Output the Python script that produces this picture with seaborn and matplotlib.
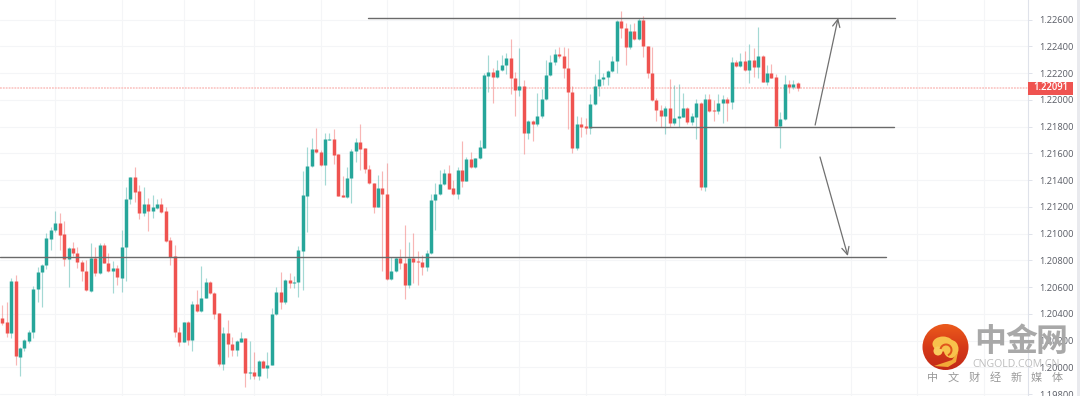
import numpy as np
import pandas as pd
import matplotlib
matplotlib.use("Agg")
import matplotlib.pyplot as plt
from matplotlib.colors import LinearSegmentedColormap
from matplotlib.patches import Circle, Ellipse, Polygon, Rectangle, Wedge
import seaborn as sns

# EURUSD candles
opens = [
    1.20366, 1.20336, 1.20254, 1.20645, 1.20079, 1.20142, 1.20199, 1.20261, 1.20583, 1.20715,
    1.20765, 1.20962, 1.21026, 1.21076, 1.20996, 1.20807, 1.20889, 1.20852, 1.20787, 1.20722,
    1.20573, 1.20815, 1.20702, 1.20914, 1.20782, 1.20720, 1.20742, 1.20670, 1.20902, 1.21256,
    1.21420, 1.21315, 1.21151, 1.21221, 1.21171, 1.21191, 1.21221, 1.21168, 1.20952, 1.20832,
    1.20264, 1.20189, 1.20336, 1.20204, 1.20471, 1.20421, 1.20520, 1.20637, 1.20553, 1.20403,
    1.20027, 1.20254, 1.20172, 1.20129, 1.20191, 1.20221, 1.19959, 1.19965, 1.19935, 1.20045,
    1.19994, 1.20019, 1.20396, 1.20565, 1.20490, 1.20652, 1.20632, 1.20637, 1.20869, 1.21283,
    1.21507, 1.21630, 1.21612, 1.21512, 1.21701, 1.21707, 1.21592, 1.21288, 1.21275, 1.21413,
    1.21619, 1.21682, 1.21637, 1.21480, 1.21380, 1.21200, 1.21340, 1.21295, 1.20658, 1.20722,
    1.20815, 1.20777, 1.20617, 1.20815, 1.20794, 1.20785, 1.20752, 1.20854, 1.21250, 1.21295,
    1.21370, 1.21455, 1.21338, 1.21293, 1.21475, 1.21395, 1.21559, 1.21495, 1.21562, 1.21641,
    1.22180, 1.22210, 1.22168, 1.22225, 1.22260, 1.22310, 1.22165, 1.22073, 1.22105, 1.21754,
    1.21843, 1.21819, 1.21878, 1.22003, 1.22185, 1.22284, 1.22340, 1.22329, 1.22235, 1.22056,
    1.21637, 1.21816, 1.21804, 1.21791, 1.21966, 1.22103, 1.22153, 1.22168, 1.22215, 1.22292,
    1.22589, 1.22536, 1.22397, 1.22516, 1.22452, 1.22596, 1.22404, 1.22198, 1.21998, 1.21923,
    1.21878, 1.21936, 1.21824, 1.21861, 1.21873, 1.21938, 1.21834, 1.21873, 1.21976, 1.21345,
    1.22006, 1.21921, 1.21916, 1.21978, 1.22003, 1.21981, 1.22284, 1.22252, 1.22292, 1.22222,
    1.22297, 1.22247, 1.22329, 1.22135, 1.22202, 1.22168, 1.21806, 1.21854, 1.22120, 1.22098, 1.22123,
]
closes = [
    1.20329, 1.20254, 1.20645, 1.20084, 1.20142, 1.20204, 1.20264, 1.20585, 1.20715, 1.20765,
    1.20964, 1.21026, 1.21076, 1.20991, 1.20807, 1.20889, 1.20852, 1.20787, 1.20722, 1.20575,
    1.20815, 1.20702, 1.20914, 1.20782, 1.20720, 1.20740, 1.20673, 1.20902, 1.21256, 1.21420,
    1.21313, 1.21151, 1.21221, 1.21171, 1.21196, 1.21221, 1.21163, 1.20947, 1.20827, 1.20261,
    1.20189, 1.20336, 1.20204, 1.20473, 1.20421, 1.20520, 1.20637, 1.20553, 1.20398, 1.20027,
    1.20254, 1.20172, 1.20129, 1.20196, 1.20221, 1.19959, 1.19965, 1.19935, 1.20045, 1.19994,
    1.20019, 1.20396, 1.20565, 1.20490, 1.20652, 1.20632, 1.20637, 1.20877, 1.21288, 1.21507,
    1.21630, 1.21612, 1.21512, 1.21707, 1.21707, 1.21589, 1.21283, 1.21275, 1.21413, 1.21619,
    1.21682, 1.21632, 1.21480, 1.21375, 1.21200, 1.21340, 1.21295, 1.20658, 1.20722, 1.20815,
    1.20777, 1.20617, 1.20815, 1.20789, 1.20785, 1.20752, 1.20854, 1.21250, 1.21295, 1.21370,
    1.21455, 1.21333, 1.21293, 1.21475, 1.21395, 1.21559, 1.21495, 1.21562, 1.21644, 1.22185,
    1.22210, 1.22168, 1.22225, 1.22260, 1.22310, 1.22165, 1.22073, 1.22105, 1.21754, 1.21843,
    1.21819, 1.21878, 1.22003, 1.22185, 1.22284, 1.22340, 1.22329, 1.22235, 1.22056, 1.21637,
    1.21816, 1.21798, 1.21791, 1.21966, 1.22103, 1.22153, 1.22168, 1.22215, 1.22292, 1.22589,
    1.22536, 1.22397, 1.22516, 1.22452, 1.22596, 1.22404, 1.22198, 1.21998, 1.21923, 1.21878,
    1.21936, 1.21824, 1.21861, 1.21876, 1.21938, 1.21834, 1.21876, 1.21976, 1.21345, 1.22006,
    1.21918, 1.21916, 1.21978, 1.22003, 1.21978, 1.22284, 1.22255, 1.22292, 1.22222, 1.22297,
    1.22247, 1.22329, 1.22135, 1.22202, 1.22165, 1.21806, 1.21856, 1.22120, 1.22098, 1.22120, 1.22091,
]
highs = [
    1.20466, 1.20491, 1.20665, 1.20690, 1.20154, 1.20209, 1.20279, 1.20608, 1.20752, 1.20772,
    1.21001, 1.21046, 1.21168, 1.21156, 1.21096, 1.20902, 1.20934, 1.20897, 1.20802, 1.20802,
    1.20927, 1.20902, 1.20927, 1.20927, 1.20852, 1.20797, 1.20765, 1.21026, 1.21345, 1.21420,
    1.21500, 1.21363, 1.21350, 1.21263, 1.21288, 1.21256, 1.21263, 1.21196, 1.20977, 1.20914,
    1.20299, 1.20341, 1.20349, 1.20498, 1.20578, 1.20759, 1.20670, 1.20645, 1.20560, 1.20403,
    1.20303, 1.20353, 1.20228, 1.20204, 1.20261, 1.20221, 1.20196, 1.20116, 1.20054, 1.20054,
    1.20112, 1.20441, 1.20602, 1.20714, 1.20660, 1.20705, 1.20685, 1.20907, 1.21467, 1.21649,
    1.21712, 1.21787, 1.21624, 1.21754, 1.21749, 1.21781, 1.21592, 1.21430, 1.21495, 1.21630,
    1.21712, 1.21816, 1.21637, 1.21512, 1.21380, 1.21437, 1.21467, 1.21525, 1.20827, 1.20827,
    1.20884, 1.21061, 1.20936, 1.21001, 1.20869, 1.20839, 1.20877, 1.21295, 1.21375, 1.21475,
    1.21480, 1.21512, 1.21400, 1.21499, 1.21692, 1.21572, 1.21609, 1.21564, 1.21699, 1.22200,
    1.22335, 1.22237, 1.22297, 1.22335, 1.22352, 1.22454, 1.22207, 1.22389, 1.22148, 1.21849,
    1.21849, 1.22050, 1.22080, 1.22297, 1.22335, 1.22379, 1.22394, 1.22397, 1.22387, 1.22103,
    1.21878, 1.21871, 1.21864, 1.22043, 1.22193, 1.22297, 1.22200, 1.22222, 1.22327, 1.22596,
    1.22664, 1.22574, 1.22566, 1.22576, 1.22611, 1.22628, 1.22404, 1.22397, 1.22013, 1.21961,
    1.21953, 1.22153, 1.22110, 1.22115, 1.22048, 1.21944, 1.21899, 1.22006, 1.21985, 1.22043,
    1.22043, 1.21998, 1.22043, 1.22035, 1.22018, 1.22317, 1.22297, 1.22352, 1.22367, 1.22417,
    1.22385, 1.22546, 1.22335, 1.22260, 1.22267, 1.22193, 1.21911, 1.22185, 1.22148, 1.22148, 1.22135,
]
lows = [
    1.20316, 1.20229, 1.20216, 1.20017, 1.19935, 1.20124, 1.20179, 1.20222, 1.20486, 1.20453,
    1.20735, 1.20877, 1.21014, 1.20877, 1.20760, 1.20603, 1.20832, 1.20740, 1.20645, 1.20570,
    1.20565, 1.20685, 1.20697, 1.20777, 1.20715, 1.20553, 1.20613, 1.20565, 1.20648, 1.21221,
    1.21238, 1.21109, 1.21131, 1.21016, 1.21119, 1.21186, 1.21151, 1.20939, 1.20765, 1.20229,
    1.20159, 1.20189, 1.20167, 1.20124, 1.20416, 1.20416, 1.20516, 1.20545, 1.20361, 1.20012,
    1.19979, 1.20079, 1.20086, 1.20086, 1.20187, 1.19850, 1.19912, 1.19912, 1.19905, 1.19992,
    1.19922, 1.20017, 1.20391, 1.20436, 1.20473, 1.20593, 1.20593, 1.20525, 1.20578, 1.21013,
    1.21495, 1.21600, 1.21507, 1.21363, 1.21699, 1.21520, 1.21280, 1.21271, 1.21263, 1.21226,
    1.21532, 1.21475, 1.21450, 1.21370, 1.21151, 1.21196, 1.20720, 1.20652, 1.20652, 1.20714,
    1.20732, 1.20508, 1.20595, 1.20632, 1.20613, 1.20690, 1.20722, 1.20847, 1.21026, 1.21290,
    1.21365, 1.21330, 1.21288, 1.21256, 1.21348, 1.21392, 1.21490, 1.21493, 1.21557, 1.21639,
    1.22058, 1.21976, 1.22163, 1.22215, 1.22193, 1.22043, 1.21881, 1.22028, 1.21594, 1.21707,
    1.21694, 1.21804, 1.21864, 1.21998, 1.22178, 1.22260, 1.22312, 1.22163, 1.21781, 1.21600,
    1.21624, 1.21721, 1.21744, 1.21746, 1.21961, 1.22028, 1.22110, 1.22110, 1.22207, 1.22200,
    1.22462, 1.22260, 1.22377, 1.22447, 1.22447, 1.22322, 1.22165, 1.21991, 1.21843, 1.21794,
    1.21744, 1.21794, 1.21811, 1.21794, 1.21869, 1.21819, 1.21813, 1.21709, 1.21325, 1.21320,
    1.21911, 1.21843, 1.21893, 1.21828, 1.21843, 1.21929, 1.22247, 1.22247, 1.22217, 1.22127,
    1.22168, 1.22160, 1.22130, 1.22110, 1.22160, 1.21798, 1.21637, 1.21849, 1.22053, 1.22080, 1.22068,
]

price_ticks = [1.198, 1.200, 1.202, 1.204, 1.206, 1.208, 1.210, 1.212, 1.214,
               1.216, 1.218, 1.220, 1.222, 1.224, 1.226]
grid_bars = [12, 27, 41, 57, 72, 87, 102, 117, 132, 150, 168, 192, 207, 222]
last_price = 1.22091

# drawn levels and arrows (bar, price)
resistance = ([82.7, 202.0], [1.22611, 1.22611])
support = ([133.0, 201.7], [1.21793, 1.21793])
lower_level = ([-0.6, 199.9], [1.20824, 1.20824])
arrow_up = ((183.9, 1.21811), (189.1, 1.22611))
arrow_down = ((185.0, 1.21572), (191.3, 1.20832))

UP = "#26a69a"
DOWN = "#ef5350"
palette = {"up": UP, "down": DOWN}

sns.set_theme(style="white")
plt.rcParams['font.family'] = ['Open Sans', 'DejaVu Sans']

df = pd.DataFrame({"open": opens, "high": highs, "low": lows, "close": closes})
df["bar"] = np.arange(len(df))
df["side"] = np.where(df["close"] >= df["open"], "up", "down")

wicks = df.melt(id_vars=["bar", "side"], value_vars=["high", "low"], value_name="price")
bodies = df.melt(id_vars=["bar", "side"], value_vars=["open", "close"], value_name="price")

fig = plt.figure(figsize=(10.8, 3.96), dpi=100, facecolor="white")
ax = fig.add_axes([0, 0, 1028 / 1080, 1])

ax.axhline(last_price, color="#fbc9c7", lw=1.3, ls=(0, (1, 0.6)), zorder=1)

sns.lineplot(data=wicks, x="bar", y="price", hue="side", units="bar", estimator=None,
             sort=False, palette=palette, lw=0.85, alpha=0.42, legend=False, ax=ax,
             solid_capstyle="butt", zorder=2)
sns.lineplot(data=bodies, x="bar", y="price", hue="side", units="bar", estimator=None,
             sort=False, palette=palette, lw=2.5, legend=False, ax=ax,
             solid_capstyle="butt", zorder=3)

for level in [resistance, support, lower_level]:
    ax.plot(level[0], level[1], color="#6a6a6a", lw=1.0, zorder=4)
for start, end in [arrow_up, arrow_down]:
    ax.annotate("", xy=end, xytext=start, zorder=4,
                arrowprops=dict(arrowstyle="->,head_length=0.45,head_width=0.22",
                                color="#707070", lw=0.9, shrinkA=0, shrinkB=0))

ax.set_xlim(-0.52, 232.06)
ax.set_ylim(1.197851, 1.227458)
ax.set_xticks(grid_bars)
ax.set_yticks(price_ticks)
ax.set_xticklabels([])
ax.set_yticklabels([f"{p:.5f}" for p in price_ticks])
ax.set_xlabel("")
ax.set_ylabel("")
ax.yaxis.tick_right()
ax.tick_params(axis="y", length=3, width=0.7, color="#dfe2ea", labelcolor="#5a5d66",
               labelsize=6.7, pad=5)
ax.tick_params(axis="x", length=0)
ax.grid(True, color="#f4f5f7", lw=0.8)
ax.set_axisbelow(True)
for name in ["left", "top", "bottom"]:
    ax.spines[name].set_visible(False)
ax.spines["right"].set_color("#dfe2ea")
ax.spines["right"].set_linewidth(0.8)

# overlay in pixel units: price tag, side strip, watermark
over = fig.add_axes([0, 0, 1, 1], facecolor="none")
over.axis("off")

over.add_patch(Rectangle((1077, 0), 3, 396, fc="#e9eaee", ec="none"))
over.add_patch(Rectangle((1028, 81.5), 45, 13, fc=DOWN, ec="none"))
over.text(1050.5, 88, f"{last_price:.5f}", color="white", fontsize=6.9, fontweight="semibold",
          ha="center", va="center")

# logo, red disc with yellow cloud
disc = Circle((945.5, 347), 23, transform=over.transData, fc="none", ec="none")
over.add_patch(disc)
logo_cmap = LinearSegmentedColormap.from_list("logo", ["#eb5a1c", "#d63a18", "#c22a18"])
grad = over.imshow(np.linspace(0, 1, 64).reshape(-1, 1), cmap=logo_cmap, aspect="auto",
                   extent=(922, 969, 370, 324), zorder=2)
grad.set_clip_path(disc)
over.set_xlim(0, 1080)
over.set_ylim(396, 0)
yellow = "#f8c24c"
over.add_patch(Ellipse((943, 344), 21, 15, fc=yellow, ec="none", zorder=3))
over.add_patch(Ellipse((938, 351), 9, 9, fc="#f9cd5e", ec="none", zorder=3))
over.add_patch(Ellipse((951, 349), 15, 18, fc=yellow, ec="none", zorder=3))
over.add_patch(Polygon([(958, 352), (952, 360), (934, 366), (948, 367), (956, 362)],
                       fc="#f2aa38", ec="none", zorder=3))
over.add_patch(Wedge((946, 350), 6.5, 190, 70, width=2, fc="#e0561c", ec="none", zorder=4))

cjk = ['Noto Sans CJK SC', 'DejaVu Sans']
for k, ch in enumerate("中金网"):
    over.text(990 + k * 31, 342, ch, family=cjk, fontsize=23, fontweight="bold",
              color="#a8a8a8", ha="center", va="center", zorder=5)
over.text(1016, 364.5, "CNGOLD.COM.CN", fontsize=7.6, color="#bdbdbd",
          ha="center", va="center", zorder=5)
for k, ch in enumerate("中文财经新媒体"):
    over.text(932.5 + k * 20.8, 378, ch, family=cjk, fontsize=8, color="#9a9a9a",
              ha="center", va="center", zorder=5)

fig.savefig("out.png", dpi=100)
